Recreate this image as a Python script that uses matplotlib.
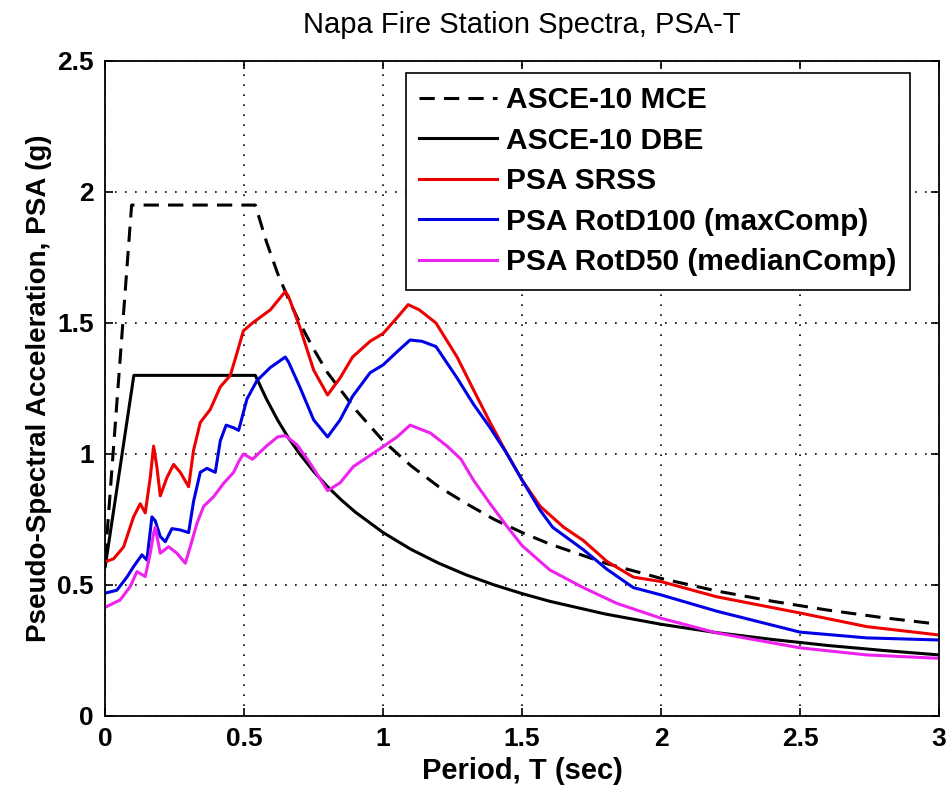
import matplotlib
matplotlib.use("Agg")
import matplotlib.pyplot as plt
from matplotlib.ticker import FuncFormatter

plt.rcParams['font.family'] = ['Liberation Sans', 'DejaVu Sans']

# ASCE-10 design spectra
t_mce = [0.0, 0.095, 0.54, 0.58, 0.62, 0.66, 0.70, 0.75, 0.80, 0.85, 0.90, 1.0, 1.1, 1.2,
         1.3, 1.4, 1.5, 1.6, 1.8, 2.0, 2.2, 2.4, 2.6, 2.8, 3.0]
sa_mce = [0.60, 1.95, 1.95, 1.81, 1.69, 1.59, 1.50, 1.40, 1.31, 1.24, 1.17, 1.05, 0.955, 0.875,
          0.81, 0.75, 0.70, 0.656, 0.583, 0.525, 0.477, 0.438, 0.404, 0.375, 0.35]

t_dbe = [0.0, 0.103, 0.54, 0.58, 0.62, 0.66, 0.70, 0.75, 0.80, 0.85, 0.90, 1.0, 1.1, 1.2,
         1.3, 1.4, 1.5, 1.6, 1.8, 2.0, 2.2, 2.4, 2.6, 2.8, 3.0]
sa_dbe = [0.57, 1.30, 1.30, 1.21, 1.13, 1.06, 1.00, 0.933, 0.875, 0.824, 0.778, 0.70, 0.636, 0.583,
          0.538, 0.50, 0.467, 0.4375, 0.389, 0.35, 0.318, 0.292, 0.269, 0.25, 0.233]

# recorded spectra
t_srss = [0.004, 0.03, 0.066, 0.102, 0.126, 0.144, 0.162, 0.174, 0.186, 0.198, 0.222, 0.246,
          0.27, 0.30, 0.318, 0.342, 0.378, 0.414, 0.45, 0.474, 0.497, 0.53, 0.594, 0.648,
          0.66, 0.70, 0.75, 0.80, 0.845, 0.89, 0.953, 1.0, 1.05, 1.09, 1.13, 1.19, 1.266,
          1.325, 1.385, 1.446, 1.5, 1.565, 1.65, 1.72, 1.805, 1.90, 2.0, 2.2, 2.5, 2.74, 3.0]
psa_srss = [0.59, 0.60, 0.645, 0.76, 0.81, 0.775, 0.91, 1.03, 0.95, 0.84, 0.91, 0.96,
            0.93, 0.875, 1.015, 1.12, 1.17, 1.256, 1.30, 1.385, 1.47, 1.50, 1.55, 1.62,
            1.60, 1.485, 1.32, 1.225, 1.29, 1.37, 1.43, 1.46, 1.52, 1.57, 1.55, 1.50, 1.37,
            1.245, 1.12, 1.00, 0.90, 0.80, 0.72, 0.67, 0.59, 0.53, 0.513, 0.455, 0.393, 0.341, 0.309]

t_rot100 = [0.004, 0.042, 0.078, 0.102, 0.132, 0.15, 0.168, 0.18, 0.198, 0.216, 0.24, 0.27,
            0.30, 0.318, 0.342, 0.366, 0.396, 0.414, 0.435, 0.462, 0.48, 0.51, 0.546, 0.594,
            0.648, 0.66, 0.70, 0.75, 0.80, 0.845, 0.89, 0.953, 1.0, 1.05, 1.097, 1.14, 1.19,
            1.266, 1.325, 1.385, 1.446, 1.5, 1.565, 1.61, 1.72, 1.805, 1.90, 2.0, 2.2, 2.5,
            2.74, 3.0]
psa_rot100 = [0.47, 0.48, 0.53, 0.57, 0.615, 0.595, 0.76, 0.745, 0.685, 0.665, 0.715, 0.71,
              0.70, 0.82, 0.93, 0.945, 0.93, 1.05, 1.11, 1.10, 1.09, 1.21, 1.28, 1.33,
              1.37, 1.35, 1.256, 1.13, 1.065, 1.13, 1.22, 1.31, 1.34, 1.39, 1.435, 1.43, 1.41,
              1.29, 1.19, 1.10, 1.00, 0.90, 0.785, 0.72, 0.635, 0.56, 0.49, 0.462, 0.40, 0.32,
              0.298, 0.29]

t_rot50 = [0.004, 0.054, 0.09, 0.114, 0.144, 0.162, 0.174, 0.18, 0.198, 0.228, 0.258, 0.288,
           0.306, 0.33, 0.354, 0.39, 0.426, 0.462, 0.48, 0.497, 0.53, 0.58, 0.62, 0.648,
           0.69, 0.737, 0.80, 0.845, 0.893, 1.0, 1.05, 1.097, 1.17, 1.23, 1.28, 1.325, 1.385,
           1.446, 1.5, 1.6, 1.72, 1.84, 2.0, 2.2, 2.5, 2.74, 3.0]
psa_rot50 = [0.417, 0.443, 0.494, 0.551, 0.532, 0.621, 0.697, 0.72, 0.621, 0.646, 0.621, 0.583,
             0.646, 0.735, 0.80, 0.837, 0.888, 0.93, 0.97, 1.0, 0.98, 1.03, 1.065, 1.07,
             1.035, 0.965, 0.86, 0.89, 0.952, 1.028, 1.065, 1.11, 1.08, 1.03, 0.98, 0.90, 0.81,
             0.723, 0.65, 0.557, 0.49, 0.43, 0.373, 0.317, 0.26, 0.233, 0.22]

fig = plt.figure(figsize=(9.48, 7.98), dpi=100)
ax = fig.add_axes([0.111, 0.1028, 0.8795, 0.8208])

ax.plot(t_mce, sa_mce, color='black', lw=2.2, dashes=(5, 3), label='ASCE-10 MCE')
ax.plot(t_dbe, sa_dbe, color='black', lw=2.2, label='ASCE-10 DBE')
ax.plot(t_srss, psa_srss, color='#ee0000', lw=2.2, label='PSA SRSS')
ax.plot(t_rot100, psa_rot100, color='#0000e6', lw=2.2, label='PSA RotD100 (maxComp)')
ax.plot(t_rot50, psa_rot50, color='#ee22ee', lw=2.2, label='PSA RotD50 (medianComp)')

ax.set_xlim(0, 3)
ax.set_ylim(0, 2.5)
ax.set_xticks([0, 0.5, 1, 1.5, 2, 2.5, 3])
ax.set_yticks([0, 0.5, 1, 1.5, 2, 2.5])
fmt = FuncFormatter(lambda v, p: ('%g' % v))
ax.xaxis.set_major_formatter(fmt)
ax.yaxis.set_major_formatter(fmt)
ax.tick_params(direction='in', top=True, right=True, length=6, width=1.2,
               labelsize=19, pad=8)
for lbl in ax.get_xticklabels() + ax.get_yticklabels():
    lbl.set_fontweight('bold')
for s in ax.spines.values():
    s.set_linewidth(1.3)

ax.grid(True, color='black', linestyle=(0, (1, 5)), lw=1.2)

ax.set_xlabel('Period, T (sec)', fontsize=21, fontweight='bold', labelpad=4)
ax.set_ylabel('Pseudo-Spectral Acceleration, PSA (g)', fontsize=20, fontweight='bold', labelpad=4)
ax.set_title('Napa Fire Station Spectra, PSA-T', fontsize=21, pad=20)

leg = ax.legend(loc='upper right', bbox_to_anchor=(0.965, 0.982),
                prop={'weight': 'bold', 'size': 21.5}, handlelength=2.6, handletextpad=0.3,
                borderpad=0.45, labelspacing=0.42, fancybox=False, framealpha=1,
                edgecolor='black', borderaxespad=0)
leg.get_frame().set_linewidth(1.2)

fig.savefig('out.png', dpi=100)
